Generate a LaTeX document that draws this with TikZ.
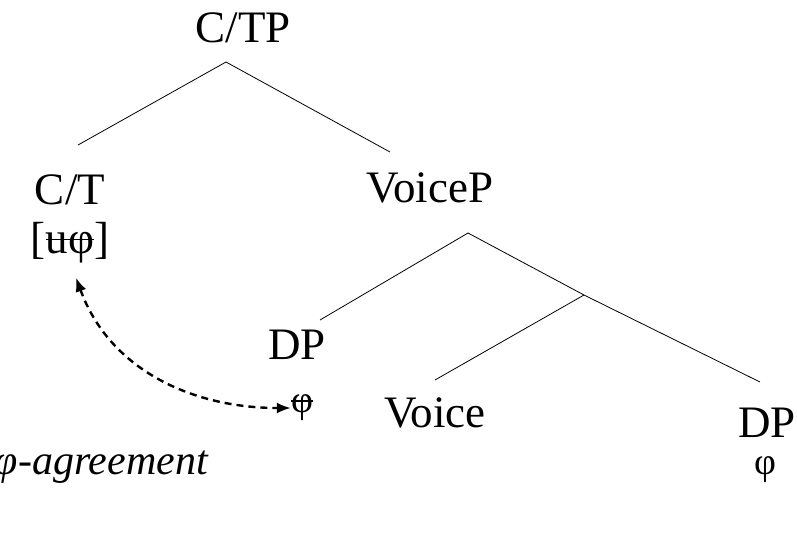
\documentclass[tikz,border=0pt]{standalone}
\usepackage{fontspec}
\setmainfont{Liberation Serif}
\usepackage{tikz}
\usetikzlibrary{arrows.meta}
\newcommand\strk[1]{\setbox0\hbox{#1}\rlap{\rule[0.3em]{\wd0}{1.2pt}}\box0}

\begin{document}
\begin{tikzpicture}[x=1pt,y=-1pt,>={Latex[length=14pt,width=11pt]},
  cat node/.style={inner sep=0pt,font=\fontsize{45}{52}\selectfont,align=center},
  branch/.style={-,line width=0.8pt}]
  \useasboundingbox (0,0) rectangle (797,547);

  \node[cat node] (ctp) at (243,28) {C/TP};
  \node[cat node] (ct) at (70,190) {C/T};
  \node[cat node] (uphi) at (70,243) {[\strk{uφ}]};
  \node[cat node] (voicep) at (430,188) {VoiceP};
  \node[cat node] (dp1) at (297,345) {DP};
  \node[cat node] (phi1) at (302,408) {\fontsize{38}{44}\selectfont\strk{φ}};
  \node[cat node] (voice) at (435,413) {Voice};
  \node[cat node] (dp2) at (767,423) {DP};
  \node[cat node] (phi2) at (765,470) {\fontsize{38}{44}\selectfont φ};
  \node[cat node,anchor=east,font=\fontsize{42}{48}\selectfont\itshape] (agr) at (208,467) {φ-agreement};

  \coordinate (top1) at (226,62);
  \coordinate (top2) at (468,233);
  \coordinate (vbar) at (584,295);

  \draw[branch] (top1) -- (78,145);
  \draw[branch] (top1) -- (390,152);
  \draw[branch] (top2) -- (320,320);
  \draw[branch] (top2) -- (vbar) -- (760,382);
  \draw[branch] (vbar) -- (435,380);

  % agreement relation
  \draw[<->,line width=2.4pt,dash pattern=on 7pt off 5pt]
    (uphi.south) ++(6,14) to[out=-70,in=180] (phi1.west);
\end{tikzpicture}
\end{document}
